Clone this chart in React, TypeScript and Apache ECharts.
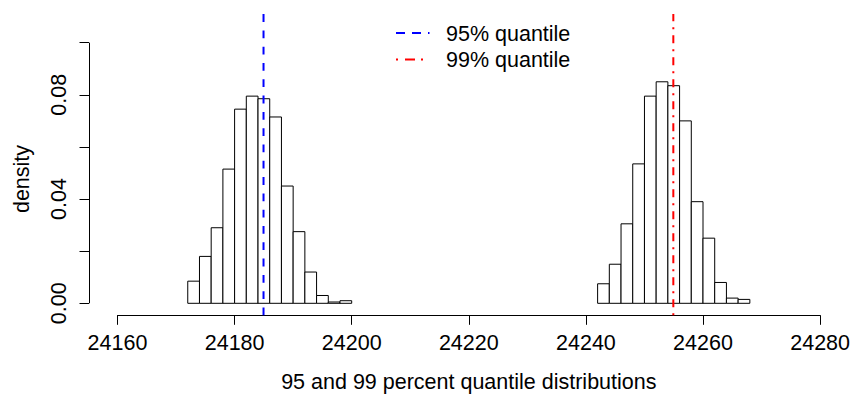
import React, { useEffect, useRef } from "react";
import * as echarts from "echarts";

// Histogram bins (left edge, right edge) and densities for the two quantile distributions
const bins95Start = [24172, 24174, 24176, 24178, 24180, 24182, 24184, 24186, 24188, 24190, 24192, 24194, 24196, 24198];
const density95 = [0.0085, 0.018, 0.029, 0.0515, 0.0745, 0.0795, 0.0785, 0.0715, 0.045, 0.0275, 0.012, 0.003, 0.0005, 0.001];
const bins99Start = [24242, 24244, 24246, 24248, 24250, 24252, 24254, 24256, 24258, 24260, 24262, 24264, 24266];
const density99 = [0.0075, 0.015, 0.0305, 0.0535, 0.0795, 0.085, 0.0835, 0.07, 0.039, 0.025, 0.008, 0.002, 0.0015];
const binWidth = 2;

// Quantile positions (vertical reference lines)
const quantile95 = 24184.94;
const quantile99 = 24254.93;

// Axis ticks
const xTicks = [24160, 24180, 24200, 24220, 24240, 24260, 24280];
const yTicks = [0, 0.02, 0.04, 0.06, 0.08, 0.1];
const yTickLabels = [0, 0.04, 0.08];

// Plotting region in data units (R-style 4% padding around the data range)
const xRegionLeft = 24155.2;
const yRegion = [-0.0046, 0.111];

const FONT = "'Liberation Sans', Arial, Helvetica, sans-serif";
const FS = 21.5;

export default function App() {
  const ref = useRef<HTMLDivElement>(null);

  useEffect(() => {
    if (!ref.current) return;
    const chart = echarts.init(ref.current, undefined, { renderer: "svg" });

    const histData = [
      ...bins95Start.map((s, i) => [s, s + binWidth, density95[i]]),
      ...bins99Start.map((s, i) => [s, s + binWidth, density99[i]]),
    ];

    const option: any = {
      animation: false,
      backgroundColor: "#ffffff",
      textStyle: { fontFamily: FONT },
      grid: { left: 117.5, right: 30.7, top: 42.7, bottom: 83.7, containLabel: false },
      xAxis: {
        type: "value",
        min: xTicks[0],
        max: xTicks[xTicks.length - 1],
        interval: 20,
        splitLine: { show: false },
        axisLine: { show: true, onZero: false, lineStyle: { color: "#000", width: 1 } },
        axisTick: { show: true, length: 9.5, lineStyle: { color: "#000", width: 1 } },
        axisLabel: {
          customValues: xTicks,
          formatter: (v: number) => String(v),
          color: "#000",
          fontSize: FS,
          fontFamily: FONT,
          margin: 17,
          showMinLabel: true,
          showMaxLabel: true,
        },
        name: "95 and 99 percent quantile distributions",
        nameLocation: "middle",
        nameGap: 56,
        nameTextStyle: { color: "#000", fontSize: FS, fontFamily: FONT },
      },
      yAxis: {
        type: "value",
        min: yRegion[0],
        max: yTicks[yTicks.length - 1],
        offset: 28.5,
        splitLine: { show: false },
        axisLine: { show: false },
        axisTick: { show: true, customValues: yTicks, length: 9.5, lineStyle: { color: "#000", width: 1 } },
        axisLabel: {
          customValues: yTickLabels,
          formatter: (v: number) => v.toFixed(2),
          rotate: 90,
          color: "#000",
          fontSize: FS,
          fontFamily: FONT,
          margin: 19,
        },
        name: "density",
        nameLocation: "middle",
        nameRotate: 90,
        nameGap: 56,
        nameTextStyle: { color: "#000", fontSize: FS, fontFamily: FONT },
      },
      series: [
        {
          type: "custom",
          data: histData,
          encode: { x: [0, 1], y: 2 },
          renderItem: (params: any, api: any) => {
            const p0 = api.coord([api.value(0), 0]);
            const p1 = api.coord([api.value(1), api.value(2)]);
            return {
              type: "rect",
              shape: { x: p0[0], y: p1[1], width: p1[0] - p0[0], height: p0[1] - p1[1] },
              style: { fill: "#ffffff", stroke: "#000000", lineWidth: 1 },
            };
          },
          z: 2,
        },
        {
          // y axis line, spanning the first to the last tick only, at the left edge of the plotting region
          type: "custom",
          data: [[xTicks[0], yTicks[0], yTicks[yTicks.length - 1]]],
          encode: { x: 0, y: [1, 2] },
          clip: false,
          silent: true,
          renderItem: (params: any, api: any) => {
            const a = api.coord([xRegionLeft, api.value(1)]);
            const b = api.coord([xRegionLeft, api.value(2)]);
            const x = Math.floor(a[0]) + 0.5;
            return {
              type: "line",
              shape: { x1: x, y1: a[1], x2: x, y2: b[1] },
              style: { stroke: "#000000", lineWidth: 1 },
            };
          },
          z: 1,
        },
        {
          type: "line",
          name: "95% quantile",
          data: [
            [quantile95, yRegion[0]],
            [quantile95, yRegion[1]],
          ],
          clip: false,
          symbol: "none",
          lineStyle: { color: "#0000ff", width: 2, type: [7.8, 8.5], cap: "butt" },
          z: 3,
        },
        {
          type: "line",
          name: "99% quantile",
          data: [
            [quantile99, yRegion[0]],
            [quantile99, yRegion[1]],
          ],
          clip: false,
          symbol: "none",
          lineStyle: { color: "#ff0000", width: 2, type: [2, 6, 8, 6], cap: "butt" },
          z: 3,
        },
      ],
      graphic: [
        {
          type: "line",
          shape: { x1: 396, y1: 33, x2: 429.5, y2: 33 },
          style: { stroke: "#0000ff", lineWidth: 2, lineDash: [9, 7] },
        },
        {
          type: "text",
          x: 446,
          y: 33.5,
          style: { text: "95% quantile", fill: "#000", font: `${FS}px ${FONT}`, textVerticalAlign: "middle", verticalAlign: "middle" },
        },
        {
          type: "line",
          shape: { x1: 396, y1: 59.5, x2: 429.5, y2: 59.5 },
          style: { stroke: "#ff0000", lineWidth: 2, lineDash: [2, 7, 10, 6] },
        },
        {
          type: "text",
          x: 446,
          y: 60,
          style: { text: "99% quantile", fill: "#000", font: `${FS}px ${FONT}`, textVerticalAlign: "middle", verticalAlign: "middle" },
        },
      ],
    };

    chart.setOption(option);
    return () => chart.dispose();
  }, []);

  return (
    <div
      ref={ref}
      style={{ position: "fixed", left: 0, top: 0, width: 853, height: 399, background: "#fff" }}
    />
  );
}
